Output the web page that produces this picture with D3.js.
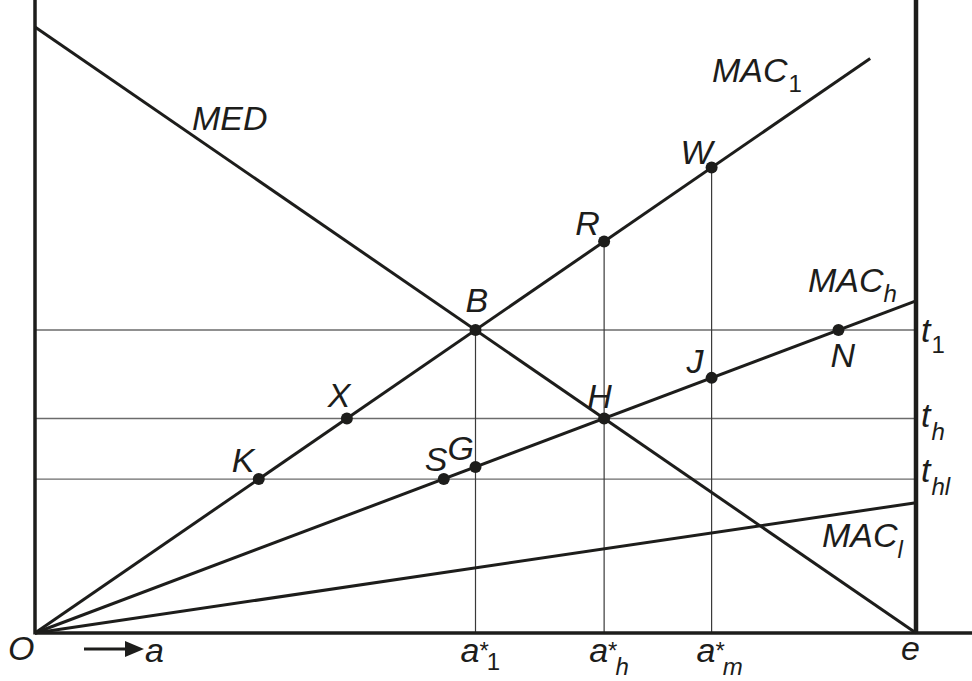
<!DOCTYPE html>
<html><head><meta charset="utf-8">
<script src="https://cdn.jsdelivr.net/npm/d3@7"></script>
<style>
html,body{margin:0;padding:0;background:#fff;}
text{font-family:"Liberation Sans",Arial,sans-serif;fill:#1d1d1b;}
</style></head>
<body><svg id="c" width="972" height="681"></svg>
<script>
// ---- data (economic units: abatement a on x, cost on y) ----
const lineNames = ["MED", "MAC1", "MACh", "MACl"];
const lineX0 = [0, 0, 0, 0];
const lineY0 = [100, 0, 0, 0];
const lineX1 = [100, 94.8, 100, 100];
const lineY1 = [0, 94.8, 54.8, 21.5];

const pointNames = ["K", "X", "B", "R", "W", "S", "G", "H", "J", "N"];
const pointX = [25.4, 35.4, 50, 64.6, 76.8, 46.4, 50, 64.6, 76.8, 91.2];
const pointY = [25.4, 35.4, 50, 64.6, 76.8, 25.4, 27.4, 35.4, 42.1, 50];

const taxNames = ["t1", "th", "thl"];
const taxValues = [50, 35.4, 25.4];

const aNames = ["a1*", "ah*", "am*"];
const aValues = [50, 64.6, 76.8];
const aTops = [50, 64.6, 76.8];

const eValue = 100;

// ---- layout ----
const svg = d3.select("#c");
const x = d3.scaleLinear().domain([0, 100]).range([35, 916]);
const y = d3.scaleLinear().domain([0, 100]).range([633, 27]);
const ink = "#1d1d1b";
const FS = 34, SFS = 24;

// tax lines (thin gray)
svg.selectAll("line.tax").data(taxValues).join("line")
  .attr("x1", x(0)).attr("x2", x(eValue))
  .attr("y1", d => y(d)).attr("y2", d => y(d))
  .attr("stroke", "#6b6b6b").attr("stroke-width", 1.3);

// vertical drop lines
svg.selectAll("line.drop").data(aValues).join("line")
  .attr("x1", d => x(d)).attr("x2", d => x(d))
  .attr("y1", (d, i) => y(aTops[i])).attr("y2", y(0))
  .attr("stroke", "#3a3a3a").attr("stroke-width", 1.2);

// curves
svg.selectAll("line.curve").data(lineNames).join("line")
  .attr("x1", (d, i) => x(lineX0[i])).attr("y1", (d, i) => y(lineY0[i]))
  .attr("x2", (d, i) => x(lineX1[i])).attr("y2", (d, i) => y(lineY1[i]))
  .attr("stroke", ink).attr("stroke-width", 3);

// axes
svg.append("line").attr("x1", x(0)).attr("x2", x(0)).attr("y1", y(0) + 1.5).attr("y2", 0)
  .attr("stroke", ink).attr("stroke-width", 3.5);
svg.append("line").attr("x1", x(0)).attr("x2", 972).attr("y1", y(0)).attr("y2", y(0))
  .attr("stroke", ink).attr("stroke-width", 3.5);
svg.append("line").attr("x1", x(eValue)).attr("x2", x(eValue)).attr("y1", y(0)).attr("y2", 0)
  .attr("stroke", ink).attr("stroke-width", 4.5);

// points
svg.selectAll("circle.pt").data(pointNames).join("circle")
  .attr("cx", (d, i) => x(pointX[i])).attr("cy", (d, i) => y(pointY[i]))
  .attr("r", 6).attr("fill", ink);

// point labels
const ptOff = {K:[-27,-7], X:[-19,-11], B:[-10,-18], R:[-29,-7], W:[-31,-4], S:[-19,-8], G:[-28,-7], H:[-17,-10], J:[-25,-5], N:[-8,37]};
svg.selectAll("text.pt").data(pointNames).join("text")
  .attr("x", (d, i) => x(pointX[i]) + ptOff[d][0])
  .attr("y", (d, i) => y(pointY[i]) + ptOff[d][1])
  .attr("font-size", FS).attr("font-style", "italic").text(d => d);

// label made of runs: [text, size, italic, dx, dy]
function label(runs, xx, yy) {
  const t = svg.append("text").attr("x", xx).attr("y", yy);
  runs.forEach(r => {
    t.append("tspan").attr("font-size", r[1]).attr("font-style", r[2] ? "italic" : "normal")
      .attr("dx", r[3] || 0).attr("dy", r[4] || 0).text(r[0]);
  });
}

// curve labels
label([["MED", FS, true]], 192, 130);
label([["MAC", FS, true], ["1", SFS, false, 1, 10]], 712, 82);
label([["MAC", FS, true], ["h", SFS, true, 0, 10]], 808, 292);
label([["MAC", FS, true], ["l", SFS, true, 0, 11]], 822, 547);

// tax labels
const taxMain = taxNames.map(s => s[0]);
const taxSub = taxNames.map(s => s.slice(1));
const taxBase = [342, 427, 482];
const taxSubDy = [11, 13, 13];
taxValues.forEach((v, i) => {
  label([[taxMain[i], FS, true], [taxSub[i], SFS, taxSub[i] !== "1", 1, taxSubDy[i]]],
    x(eValue) + 5, taxBase[i]);
});

// a* labels (asterisk raised, subscript lowered, set tightly side by side)
aNames.forEach((n, i) => {
  const sub = n.slice(1, -1);
  label([["a", FS, true], ["*", 24, true, -1, -3], [sub, SFS, sub !== "1", -1, sub === "1" ? 11 : 16]],
    x(aValues[i]) - 15, 662);
});

// O, e, a-arrow
label([["O", FS, true]], 8, 660);
label([["e", FS, true]], x(eValue) - 15, 660);
svg.append("line").attr("x1", 84).attr("x2", 128).attr("y1", 649).attr("y2", 649)
  .attr("stroke", ink).attr("stroke-width", 3);
svg.append("path").attr("d", d3.line()([[125, 641], [144, 649], [125, 657]]) + "Z").attr("fill", ink);
label([["a", FS, true]], 145, 662);
</script></body></html>
